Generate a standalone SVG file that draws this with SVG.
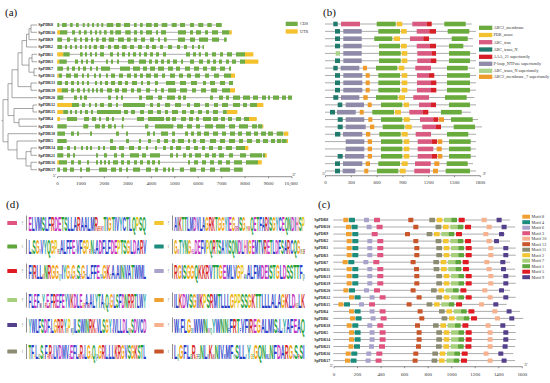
<svg xmlns="http://www.w3.org/2000/svg" width="550" height="383" viewBox="0 0 550 383">
<style>
.pl{font-family:"Liberation Serif",serif;font-size:11px;fill:#111}
.lab{font-family:"Liberation Serif",serif;font-size:4px;font-weight:bold;fill:#222}
.labc{font-family:"Liberation Serif",serif;font-size:3.8px;font-weight:bold;fill:#222}
.tk{font-family:"Liberation Serif",serif;font-size:4.9px;fill:#333;text-anchor:middle}
.lg{font-family:"Liberation Serif",serif;font-size:4.2px;fill:#333}
.intr,.bl,.cl{fill:none;stroke:#a3a3a3;stroke-width:0.9}
.cds{fill:none;stroke:#70ad47;stroke-width:4.2}
.utr{fill:none;stroke:#f5c12d;stroke-width:4.2}
.tree{fill:none;stroke:#6a6a6a;stroke-width:0.6}
.ax{fill:none;stroke:#444;stroke-width:0.6}
rect.b{y:-2.3px;height:4.6px}
.dA{fill:#6aab3e}.dB{fill:#f3c230}.dC{fill:#d95a80}.dD{fill:#1f7a6b}.dE{fill:#d61f26}.dF{fill:#8e8aa8}.dG{fill:#a9d38d}.dH{fill:#ef9b29}
.m1{fill:#5ea63c}.m2{fill:#f3c530}.m3{fill:#e05580}.m4{fill:#1c8c7c}.m5{fill:#e01b24}.m6{fill:#a9a3cc}.m7{fill:#a8d07c}.m8{fill:#f0a030}.m9{fill:#55408c}.m10{fill:#f6b28f}.m11{fill:#8c8c72}.m12{fill:#c9552a}
.logo{font-family:"Liberation Sans",sans-serif;font-weight:bold;font-size:21px}
.s{font-size:8px}
.h{fill:#2a3fc8}.p{fill:#1f9e3a}.a{fill:#c534c0}.k{fill:#d42a2a}.g{fill:#f0a20c}.y{fill:#e5c81a}.hh{fill:#e76fa8}.yy{fill:#21a3a3}
.bits{font-family:"Liberation Sans",sans-serif;font-size:2.4px;fill:#444;text-anchor:middle}
</style>
<defs>
<g id="cb1"><rect class="m8" x="346.7" y="-2.15" width="5" height="4.3" rx="0.5"/><rect class="m4" x="352.3" y="-2.15" width="6" height="4.3" rx="0.5"/><rect class="m6" x="367.3" y="-2.15" width="5" height="4.3" rx="0.5"/><rect class="m3" x="377.3" y="-2.15" width="6" height="4.3" rx="0.5"/></g>
<g id="cb2"><rect class="m12" x="414.3" y="-2.15" width="5" height="4.3" rx="0.5"/></g>
<g id="cb3"><rect class="m11" x="436.3" y="-2.15" width="5.7" height="4.3" rx="0.5"/><rect class="m2" x="443.7" y="-2.15" width="5.6" height="4.3" rx="0.5"/><rect class="m7" x="451" y="-2.15" width="7.3" height="4.3" rx="0.5"/><rect class="m1" x="458.3" y="-2.15" width="5.7" height="4.3" rx="0.5"/><rect class="m5" x="465.7" y="-2.15" width="6" height="4.3" rx="0.5"/></g>
<g id="cb4"><rect class="m10" x="488.3" y="-2.15" width="5" height="4.3" rx="0.5"/></g>
<g id="cb5"><rect class="m9" x="503.3" y="-2.15" width="5" height="4.3" rx="0.5"/></g>
</defs>
<rect width="550" height="383" fill="#fff"/>
<text class="pl" x="5" y="16">(a)</text>
<text class="pl" x="323" y="16">(b)</text>
<text class="pl" x="318" y="208">(c)</text>
<text class="pl" x="6" y="208">(d)</text>

<g id="connectors">
<path class="tree" d="M37 25H31V32.3H37M31 28.65H29V39.7H37M29 34.2H26.5V47H37M37 54.3H32V61.7H37M37 68.7H34V75.7H37M32 58H29V72.2H34M26.5 40.6H22V65.1H29M37 83H31V90.3H37M22 52.85H18V86.65H31M18 69.75H12V97.7H37M37 105H33V112H37M37 119H19V126.3H37M33 108.5H14V122.65H19M12 83.7H8V115.6H14M37 148H31V155.3H37M37 162.3H31V169.7H37M31 151.65H26V166H31M37 141H17V158.8H26M37 133.7H8V149.9H17M8 99.65H3V141.8H8M3 120.7H1.5"/>
</g>

<g id="panel-a">
<g id="a-SpPDR8" transform="translate(0,25)"><text class="lab" x="38.3" y="1.4">SpPDR8</text><path class="intr" d="M57.3 0H221.7"/><path class="cds" d="M57.3 0H59.3M62 0H66.7M70 0H72.7M76 0H78.7M82.7 0H84.7M87.3 0H89.3M92 0H94M96.7 0H98.7M101.3 0H103.3M106.7 0H113.3M116 0H120.7M124 0H130M134 0H136.7M140 0H142.7M146 0H151.7M154 0H158M161.7 0H167.3M171.7 0H176.7M180 0H185M190 0H194M198.3 0H203.3M207.3 0H211.7M216 0H221.7"/></g>
<g id="a-SpPDR10" transform="translate(0,32.3)"><text class="lab" x="38.3" y="1.4">SpPDR10</text><path class="intr" d="M57.3 0H231.7"/><path class="utr" d="M57.3 0H60M229.3 0H231.7"/><path class="cds" d="M60 0H67.3M72 0H75M78.7 0H81M84 0H86.7M90 0H92M95 0H97M99.3 0H101.3M104 0H106.7M110 0H113.3M115.3 0H121M125.3 0H130.7M134 0H137M140 0H142.7M146 0H152M156 0H158M161 0H166M178 0H186M190 0H193M196 0H201M205 0H208M212 0H218M222 0H229.3"/></g>
<g id="a-SpPDR9" transform="translate(0,39.7)"><text class="lab" x="38.3" y="1.4">SpPDR9</text><path class="intr" d="M57.3 0H226.7"/><path class="cds" d="M57.3 0H62M67 0H70M74 0H76.7M80 0H82M85 0H88M91 0H93M96 0H98.7M102 0H106M108.7 0H114M118 0H124M127 0H130.7M134 0H137M141 0H145M150 0H154M158 0H160M164 0H166.7M178 0H185M190 0H195M199 0H208M212 0H219M224 0H226.7"/></g>
<g id="a-SpPDR2" transform="translate(0,47)"><text class="lab" x="38.3" y="1.4">SpPDR2</text><path class="intr" d="M57.3 0H204"/><path class="cds" d="M57.3 0H62M65 0H67M70 0H72M75 0H77M80 0H82M85 0H86.7M89 0H91M93.7 0H97M100 0H104M108 0H111M114 0H119M122 0H126.7M130 0H134M138 0H142M146 0H149M152 0H156M160 0H163M168 0H172M177 0H180M184 0H187M192 0H194M198 0H200M202.5 0H204"/></g>
<g id="a-SpPDR1" transform="translate(0,54.3)"><text class="lab" x="38.3" y="1.4">SpPDR1</text><path class="intr" d="M57.3 0H253.3"/><path class="utr" d="M57.3 0H63.3M245 0H253.3"/><path class="cds" d="M63.3 0H69.7M80 0H82.7M85 0H87M90 0H92M95 0H97M100 0H104M110 0H113M117 0H119M122 0H125M128 0H130M133 0H136M139 0H141M144 0H147M150 0H153M156 0H159M163 0H166M186 0H190M193 0H196M198.7 0H201M205 0H208M212 0H216M220 0H223M227 0H232M236 0H245"/></g>
<g id="a-SpPDR3" transform="translate(0,61.7)"><text class="lab" x="38.3" y="1.4">SpPDR3</text><path class="intr" d="M57.3 0H258.3"/><path class="utr" d="M57.3 0H59.3M245 0H258.3"/><path class="cds" d="M59.3 0H66.7M75 0H78M81 0H83M86 0H88M91 0H94M106 0H108M111 0H113M117 0H119M128 0H134M139 0H146M149 0H152M155 0H158M161 0H164M167 0H170M173 0H177M181 0H183M190 0H194M199 0H203M207 0H210M213 0H216M219 0H222M226 0H229M232 0H236M240 0H245"/></g>
<g id="a-SpPDR7" transform="translate(0,68.7)"><text class="lab" x="38.3" y="1.4">SpPDR7</text><path class="intr" d="M57.3 0H231"/><path class="cds" d="M57.3 0H63M66.7 0H69M72 0H75M78 0H80M83 0H86M90 0H92M96 0H98M101 0H110M120 0H130M133 0H140M143 0H147M150 0H155M158 0H164M168 0H173M176 0H180M185 0H190M194 0H199M203 0H207M211 0H216M220 0H225M229 0H231"/></g>
<g id="a-SpPDR11" transform="translate(0,75.7)"><text class="lab" x="38.3" y="1.4">SpPDR11</text><path class="intr" d="M57.3 0H235"/><path class="utr" d="M57.3 0H58.7M231 0H235"/><path class="cds" d="M58.7 0H62M66 0H71M74 0H78M82 0H84M87 0H89M94 0H96M99 0H101M106 0H108M111 0H115M119 0H123M127 0H131M134 0H137M140 0H143M146 0H151M154 0H158M162 0H165M170 0H175M179 0H183M187 0H191M195 0H200M205 0H209M214 0H219M224 0H231"/></g>
<g id="a-SpPDR13" transform="translate(0,83)"><text class="lab" x="38.3" y="1.4">SpPDR13</text><path class="intr" d="M57.3 0H233"/><path class="cds" d="M57.3 0H62M65 0H68M71 0H74M77 0H79M82 0H84M87 0H89M95 0H97M100 0H102M105 0H108M111 0H115M118 0H122M125 0H128M132 0H137M141 0H143M147 0H150M155 0H158M166 0H175M180 0H186M191 0H197M203 0H206M210 0H215M220 0H225M229 0H233"/></g>
<g id="a-SpPDR19" transform="translate(0,90.3)"><text class="lab" x="38.3" y="1.4">SpPDR19</text><path class="intr" d="M57.3 0H235"/><path class="utr" d="M57.3 0H61.7M230 0H235"/><path class="cds" d="M61.7 0H68M71 0H74M77 0H80M83 0H85M87.7 0H89.7M92 0H94M96 0H98M100 0H103M107 0H112M115 0H119M122 0H127M131 0H134M137 0H141M146 0H150M155 0H157M161 0H164M168 0H176M180 0H187M192 0H196M201 0H206M211 0H217M222 0H230"/></g>
<g id="a-SpPDR20" transform="translate(0,97.7)"><text class="lab" x="38.3" y="1.4">SpPDR20</text><path class="intr" d="M57.3 0H292"/><path class="cds" d="M57.3 0H63.3M74 0H77M80 0H82M84 0H87M108 0H111M116 0H118M121 0H123M139 0H142M146 0H153M158 0H162M167 0H175M178 0H181M183 0H186M210 0H213M219 0H223M226 0H229M233 0H240M243 0H250M253 0H258M262 0H266M268 0H270M273 0H279M282 0H286M288 0H292"/></g>
<g id="a-SpPDR12" transform="translate(0,105)"><text class="lab" x="38.3" y="1.4">SpPDR12</text><path class="intr" d="M57.3 0H263.3"/><path class="utr" d="M57.3 0H72M257 0H263.3"/><path class="cds" d="M72 0H79M82 0H85M89 0H91M95 0H97M100 0H104M108 0H112M116 0H118M123 0H145M150 0H153M157 0H160M165 0H170M175 0H181M187 0H190M194 0H200M205 0H209M214 0H218M222 0H228M233 0H240M243 0H247M250 0H257"/></g>
<g id="a-SpPDR15" transform="translate(0,112)"><text class="lab" x="38.3" y="1.4">SpPDR15</text><path class="intr" d="M57.3 0H237.3"/><path class="utr" d="M57.3 0H63.3M226.7 0H237.3"/><path class="cds" d="M63.3 0H68M70 0H72M75 0H77M80 0H82M85 0H88M91 0H93M97 0H121M124 0H128M131 0H135M140 0H144M148 0H153M157 0H161M165 0H168M172 0H178M182 0H186M190 0H194M198 0H202M206 0H209M213 0H218M223 0H226.7"/></g>
<g id="a-SpPDR4" transform="translate(0,119)"><text class="lab" x="38.3" y="1.4">SpPDR4</text><path class="intr" d="M57.3 0H256.7"/><path class="utr" d="M57.3 0H60M249 0H256.7"/><path class="cds" d="M67 0H77M84 0H89M92 0H96M99 0H101M106 0H109M112 0H114M122 0H124M137 0H144M148 0H164M166 0H170M172 0H176M181 0H186M189 0H193M196 0H199M203 0H211M213 0H218M221 0H225M228 0H232M236 0H241M244 0H249"/></g>
<g id="a-SpPDR6" transform="translate(0,126.3)"><text class="lab" x="38.3" y="1.4">SpPDR6</text><path class="intr" d="M57.3 0H263.3"/><path class="utr" d="M262.3 0H263.3"/><path class="cds" d="M57.3 0H66.7M83.3 0H88.3M95 0H100M101.7 0H105M108 0H111.7M114 0H116M121.7 0H123.3M145 0H148.3M155 0H173.3M177 0H183M187 0H192M196 0H200M205 0H213M216 0H225M229 0H235M239 0H248M252 0H257M258 0H262.3"/></g>
<g id="a-SpPDR18" transform="translate(0,133.7)"><text class="lab" x="38.3" y="1.4">SpPDR18</text><path class="intr" d="M57.3 0H288.3"/><path class="utr" d="M284 0H288.3"/><path class="cds" d="M57.3 0H65M71 0H74M77 0H79M90 0H92M116 0H119M126 0H128M147 0H150M153 0H155M161 0H168M172 0H175M185 0H188M191 0H194M197 0H201M204 0H209M213 0H218M222 0H226M230 0H235M238 0H242M246 0H251M254 0H258M261 0H266M268 0H273M276.7 0H283.3"/></g>
<g id="a-SpPDR5" transform="translate(0,141)"><text class="lab" x="38.3" y="1.4">SpPDR5</text><path class="intr" d="M57.3 0H288"/><path class="utr" d="M286.7 0H288"/><path class="cds" d="M57.3 0H66.7M110 0H113M126 0H129M139 0H141M148 0H151M157 0H160M164 0H168M172 0H175M178 0H184M188 0H190M193 0H196M200 0H205M210 0H216M220 0H225M229 0H235M239 0H243M247 0H252M256 0H260M263 0H268M271 0H275M277 0H281M281.7 0H286.7"/></g>
<g id="a-SpPDR14" transform="translate(0,148)"><text class="lab" x="38.3" y="1.4">SpPDR14</text><path class="intr" d="M57.3 0H248.3"/><path class="utr" d="M245 0H248.3"/><path class="cds" d="M57.3 0H63M67 0H70M74 0H76M81 0H83M86 0H88M90 0H92M98 0H100M103 0H105M110 0H116M119 0H124M129 0H134M138 0H141M146 0H148M155 0H157M163 0H166M170 0H173M176 0H181M186 0H190M194 0H198M202 0H205M209 0H213M218 0H222M226 0H232M236 0H245"/></g>
<g id="a-SpPDR21" transform="translate(0,155.3)"><text class="lab" x="38.3" y="1.4">SpPDR21</text><path class="intr" d="M57.3 0H266.7"/><path class="utr" d="M265 0H266.7"/><path class="cds" d="M57.3 0H63.3M67 0H70M73 0H75M96 0H98M104 0H107M114 0H117M121 0H124M130 0H139M142 0H146M150 0H160M170 0H173M176 0H178M183 0H186M189 0H192M195 0H201M205 0H209M212 0H216M219 0H224M229 0H233M240 0H246M250 0H262M263 0H265"/></g>
<g id="a-SpPDR16" transform="translate(0,162.3)"><text class="lab" x="38.3" y="1.4">SpPDR16</text><path class="intr" d="M57.3 0H261.7"/><path class="utr" d="M57.3 0H59M258 0H261.7"/><path class="cds" d="M59 0H67M71 0H74M78 0H81M87 0H89M96 0H98M100 0H102M104 0H106M108 0H110M113 0H118M121 0H124M127 0H130M134 0H137M140 0H143M147 0H150M152 0H155M158 0H160M188 0H190M194 0H198M202 0H206M210 0H214M218 0H222M226 0H230M234 0H242M246 0H258"/></g>
<g id="a-SpPDR17" transform="translate(0,169.7)"><text class="lab" x="38.3" y="1.4">SpPDR17</text><path class="intr" d="M57.3 0H242.7"/><path class="cds" d="M57.3 0H60M63 0H67M70 0H74M80 0H82M86 0H90M99 0H107M111 0H116M119 0H122M126 0H128M133 0H140M146 0H151M155 0H158M163 0H166M168 0H170M172 0H174M180 0H184M190 0H196M201 0H205M210 0H215M220 0H230M234 0H242.7"/></g>
<g id="a-legend"><rect x="285.7" y="21.7" width="12" height="4.3" fill="#70ad47"/><text class="lg" x="300" y="25.4">CDS</text><rect x="285.7" y="29.3" width="12" height="4.3" fill="#f5c12d"/><text class="lg" x="300" y="33">UTR</text></g>
<g id="a-axis"><path class="ax" d="M57.5 176.7H292M57.5 176.7v1.5M80.95 176.7v1.5M104.4 176.7v1.5M127.85 176.7v1.5M151.3 176.7v1.5M174.75 176.7v1.5M198.2 176.7v1.5M221.65 176.7v1.5M245.1 176.7v1.5M268.55 176.7v1.5M292 176.7v1.5"/>
<text class="tk" x="57.5" y="185">0</text><text class="tk" x="80.95" y="185">1000</text><text class="tk" x="104.4" y="185">2000</text><text class="tk" x="127.85" y="185">3000</text><text class="tk" x="151.3" y="185">4000</text><text class="tk" x="174.75" y="185">5000</text><text class="tk" x="198.2" y="185">6000</text><text class="tk" x="221.65" y="185">7000</text><text class="tk" x="245.1" y="185">8000</text><text class="tk" x="268.55" y="185">9000</text><text class="tk" x="291" y="185">10,000</text>
<text class="tk" x="54.5" y="177">5'</text><text class="tk" x="294" y="175.5">3'</text></g>
</g>

<g id="panel-b">
<g id="b-r1" transform="translate(0,24)"><path class="bl" d="M325 0H471.7"/><rect class="b dD" x="333.3" width="4.4"/><rect class="b dC" x="341" width="19"/><rect class="b dA" x="376.7" width="19"/><rect class="b dB" x="396.7" width="5.6"/><rect class="b dC" x="412.3" width="14.4"/><rect class="b dE" x="426.7" width="5"/><rect class="b dA" x="444.3" width="21.4"/></g>
<g id="b-r2" transform="translate(0,31.35)"><path class="bl" d="M325 0H476"/><rect class="b dD" x="335" width="5"/><rect class="b dF" x="343.3" width="18.4"/><rect class="b dA" x="378.3" width="21.7"/><rect class="b dB" x="401" width="5.7"/><rect class="b dC" x="416.7" width="12.6"/><rect class="b dE" x="429.3" width="6.7"/><rect class="b dA" x="447.7" width="21.6"/></g>
<g id="b-r3" transform="translate(0,38.7)"><path class="bl" d="M325 0H473"/><rect class="b dD" x="335" width="5"/><rect class="b dF" x="343.3" width="18.4"/><rect class="b dA" x="374.3" width="18"/><rect class="b dB" x="393.7" width="6.3"/><rect class="b dC" x="410" width="13.3"/><rect class="b dE" x="423.3" width="5.7"/><rect class="b dA" x="451.7" width="16"/></g>
<g id="b-r4" transform="translate(0,46.05)"><path class="bl" d="M325 0H473"/><rect class="b dD" x="335" width="5"/><rect class="b dF" x="343.3" width="18.4"/><rect class="b dA" x="379" width="21"/><rect class="b dB" x="401" width="5.7"/><rect class="b dC" x="416.7" width="13.3"/><rect class="b dE" x="430" width="6"/><rect class="b dA" x="449" width="14.3"/></g>
<g id="b-r5" transform="translate(0,53.4)"><path class="bl" d="M325 0H476"/><rect class="b dG" x="335.7" width="4.3"/><rect class="b dF" x="343.3" width="18.4"/><rect class="b dA" x="379" width="21.7"/><rect class="b dB" x="401.7" width="5.6"/><rect class="b dC" x="417.3" width="14.4"/><rect class="b dE" x="431.7" width="4.3"/><rect class="b dA" x="449" width="21"/></g>
<g id="b-r6" transform="translate(0,60.75)"><path class="bl" d="M325 0H476"/><rect class="b dD" x="335" width="5"/><rect class="b dF" x="343.3" width="18.4"/><rect class="b dA" x="379" width="21.7"/><rect class="b dB" x="401.7" width="5.6"/><rect class="b dC" x="417.3" width="13.7"/><rect class="b dE" x="431" width="5.3"/><rect class="b dA" x="449" width="21"/></g>
<g id="b-r7" transform="translate(0,68.1)"><path class="bl" d="M325 0H475"/><rect class="b dD" x="333.3" width="4.4"/><rect class="b dF" x="340.7" width="18.6"/><rect class="b dH" x="363" width="4"/><rect class="b dA" x="376" width="21.3"/><rect class="b dB" x="398.7" width="5.6"/><rect class="b dC" x="415.3" width="15.7"/><rect class="b dA" x="447" width="20.7"/></g>
<g id="b-r8" transform="translate(0,75.45)"><path class="bl" d="M325 0H476"/><rect class="b dD" x="335" width="5"/><rect class="b dF" x="343.3" width="19"/><rect class="b dH" x="365.7" width="4"/><rect class="b dA" x="378.3" width="21.7"/><rect class="b dB" x="401.7" width="5.6"/><rect class="b dC" x="417" width="12"/><rect class="b dE" x="429" width="5.3"/><rect class="b dA" x="447" width="23"/></g>
<g id="b-r9" transform="translate(0,82.8)"><path class="bl" d="M325 0H476"/><rect class="b dD" x="335" width="5"/><rect class="b dF" x="343.3" width="19"/><rect class="b dH" x="365.7" width="4"/><rect class="b dA" x="378.3" width="21.7"/><rect class="b dB" x="401.7" width="5.6"/><rect class="b dC" x="417" width="14"/><rect class="b dE" x="431" width="5.3"/><rect class="b dA" x="447" width="23"/></g>
<g id="b-r10" transform="translate(0,90.15)"><path class="bl" d="M325 0H476"/><rect class="b dD" x="335" width="5"/><rect class="b dF" x="343.3" width="19"/><rect class="b dH" x="365.7" width="4"/><rect class="b dA" x="378.3" width="21.7"/><rect class="b dB" x="401.7" width="5.6"/><rect class="b dC" x="417" width="14"/><rect class="b dE" x="431" width="5.3"/><rect class="b dA" x="447" width="23"/></g>
<g id="b-r11" transform="translate(0,97.5)"><path class="bl" d="M325 0H474.3"/><rect class="b dD" x="333.3" width="5"/><rect class="b dF" x="341" width="18.3"/><rect class="b dH" x="363.3" width="4.4"/><rect class="b dA" x="376" width="21.7"/><rect class="b dB" x="398.7" width="6.3"/><rect class="b dC" x="413.3" width="15.7"/><rect class="b dA" x="445" width="21.7"/></g>
<g id="b-r12" transform="translate(0,104.85)"><path class="bl" d="M325 0H476"/><rect class="b dD" x="337.7" width="4.6"/><rect class="b dF" x="345.7" width="18.3"/><rect class="b dH" x="367.7" width="4"/><rect class="b dA" x="381" width="21.3"/><rect class="b dB" x="403.7" width="5.3"/><rect class="b dC" x="419" width="12"/><rect class="b dE" x="431" width="5"/><rect class="b dA" x="449" width="21"/></g>
<g id="b-r13" transform="translate(0,112.2)"><path class="bl" d="M325 0H471"/><rect class="b dD" x="330" width="5"/><rect class="b dF" x="337" width="18.7"/><rect class="b dH" x="359.7" width="4"/><rect class="b dA" x="372.3" width="21.7"/><rect class="b dB" x="395" width="6"/><rect class="b dC" x="409.3" width="13.4"/><rect class="b dE" x="422.7" width="5.6"/><rect class="b dA" x="441" width="20.7"/></g>
<g id="b-r14" transform="translate(0,119.55)"><path class="bl" d="M325 0H478"/><rect class="b dD" x="337.7" width="5"/><rect class="b dF" x="345.7" width="18.6"/><rect class="b dH" x="368.3" width="4"/><rect class="b dA" x="381" width="21.3"/><rect class="b dB" x="403.7" width="6"/><rect class="b dC" x="420" width="13.3"/><rect class="b dE" x="433.3" width="5"/><rect class="b dH" x="439" width="5"/><rect class="b dA" x="451" width="21.7"/></g>
<g id="b-r15" transform="translate(0,126.9)"><path class="bl" d="M325 0H482"/><rect class="b dD" x="337.7" width="5"/><rect class="b dF" x="345.7" width="20"/><rect class="b dH" x="370" width="4.3"/><rect class="b dA" x="382.7" width="21.6"/><rect class="b dB" x="405.3" width="6.4"/><rect class="b dC" x="422.3" width="13.7"/><rect class="b dE" x="436" width="5"/><rect class="b dA" x="453.7" width="21.3"/></g>
<g id="b-r16" transform="translate(0,134.25)"><path class="bl" d="M325 0H476"/><rect class="b dD" x="335" width="5.3"/><rect class="b dF" x="343" width="19.3"/><rect class="b dH" x="366" width="4.3"/><rect class="b dA" x="379.3" width="21.4"/><rect class="b dB" x="401.7" width="6"/><rect class="b dC" x="415.7" width="15.3"/><rect class="b dA" x="447" width="21.3"/></g>
<g id="b-r17" transform="translate(0,141.6)"><path class="bl" d="M325 0H476"/><rect class="b dF" x="345.7" width="18.6"/><rect class="b dH" x="367.7" width="4.3"/><rect class="b dA" x="381" width="21.3"/><rect class="b dB" x="403.7" width="5.6"/><rect class="b dC" x="417.7" width="14"/><rect class="b dE" x="431.7" width="5.3"/><rect class="b dH" x="437.7" width="4.6"/><rect class="b dA" x="449" width="21.7"/></g>
<g id="b-r18" transform="translate(0,148.95)"><path class="bl" d="M325 0H476"/><rect class="b dF" x="345.7" width="18.6"/><rect class="b dH" x="367.7" width="4.3"/><rect class="b dA" x="381" width="21.3"/><rect class="b dB" x="403.7" width="5.6"/><rect class="b dC" x="417.7" width="15.6"/><rect class="b dH" x="436.7" width="5"/><rect class="b dA" x="449" width="21.7"/></g>
<g id="b-r19" transform="translate(0,156.3)"><path class="bl" d="M325 0H476"/><rect class="b dD" x="337.7" width="5"/><rect class="b dF" x="345" width="19.3"/><rect class="b dH" x="367.7" width="4.3"/><rect class="b dA" x="381" width="21.3"/><rect class="b dB" x="403.7" width="5.6"/><rect class="b dC" x="417.7" width="14"/><rect class="b dE" x="431.7" width="5.3"/><rect class="b dH" x="437.7" width="4.6"/><rect class="b dA" x="449" width="21.7"/></g>
<g id="b-r20" transform="translate(0,163.65)"><path class="bl" d="M325 0H473"/><rect class="b dD" x="335" width="5"/><rect class="b dF" x="343" width="19.3"/><rect class="b dH" x="365.7" width="4.3"/><rect class="b dA" x="378.3" width="21.7"/><rect class="b dB" x="401.7" width="6"/><rect class="b dC" x="415" width="15.7"/><rect class="b dH" x="434.3" width="5"/><rect class="b dA" x="446.7" width="21"/></g>
<g id="b-r21" transform="translate(0,171)"><path class="bl" d="M325 0H476"/><rect class="b dD" x="335" width="5"/><rect class="b dF" x="342.7" width="12.6"/><rect class="b dH" x="364.3" width="4"/><rect class="b dA" x="377" width="21.3"/><rect class="b dB" x="399.7" width="6"/><rect class="b dC" x="414.3" width="15.7"/><rect class="b dH" x="433" width="5"/><rect class="b dA" x="445.7" width="24.3"/></g>
<g id="b-legend">
<rect class="dA" x="479" y="25.65" width="13.3" height="4.3"/><text class="lg" x="493.5" y="29.2">ABC2_membrane</text>
<rect class="dB" x="479" y="32.85" width="13.3" height="4.3"/><text class="lg" x="493.5" y="36.4">PDR_assoc</text>
<rect class="dC" x="479" y="40.05" width="13.3" height="4.3"/><text class="lg" x="493.5" y="43.6">ABC_tran</text>
<rect class="dD" x="479" y="47.35" width="13.3" height="4.3"/><text class="lg" x="493.5" y="50.9">ABC_trans_N</text>
<rect class="dE" x="479" y="54.65" width="13.3" height="4.3"/><text class="lg" x="493.5" y="58.2">AAA_21 superfamily</text>
<rect class="dF" x="479" y="61.65" width="13.3" height="4.3"/><text class="lg" x="493.5" y="65.2">P-loop_NTPase superfamily</text>
<rect class="dG" x="479" y="68.65" width="13.3" height="4.3"/><text class="lg" x="493.5" y="72.2">ABC_trans_N superfamily</text>
<rect class="dH" x="479" y="74.65" width="13.3" height="4.3"/><text class="lg" x="493.5" y="78.2">ABC2_membrane_7 superfamily</text>
</g>
<g id="b-axis"><path class="ax" d="M325.5 175.7H480.3M325.5 175.7v1.5M351.3 175.7v1.5M377.1 175.7v1.5M402.9 175.7v1.5M428.7 175.7v1.5M454.5 175.7v1.5M480.3 175.7v1.5"/>
<text class="tk" x="325.5" y="184">0</text><text class="tk" x="351.3" y="184">300</text><text class="tk" x="377.1" y="184">600</text><text class="tk" x="402.9" y="184">900</text><text class="tk" x="428.7" y="184">1200</text><text class="tk" x="454.5" y="184">1500</text><text class="tk" x="480.3" y="184">1800</text>
<text class="tk" x="324" y="175">5'</text><text class="tk" x="484.5" y="175">3'</text></g>
</g>

<g id="panel-c">
<g id="c-SpPDR8" transform="translate(0,220)"><text class="labc" x="314.3" y="1.3">SpPDR8</text><path class="cl" d="M333.3 0H510"/><use href="#cb1" x="-3.3"/><use href="#cb2" x="-6"/><use href="#cb3" x="-7"/><use href="#cb4" x="-6.7"/><use href="#cb5" x="-6.7"/></g>
<g id="c-SpPDR10" transform="translate(0,227)"><text class="labc" x="314.3" y="1.3">SpPDR10</text><path class="cl" d="M333.3 0H515"/><use href="#cb1" x="-0.7"/><use href="#cb2" x="-1"/><use href="#cb3" x="-0.7"/><use href="#cb4" x="-1.7"/><use href="#cb5" x="-1.7"/></g>
<g id="c-SpPDR9" transform="translate(0,234.1)"><text class="labc" x="314.3" y="1.3">SpPDR9</text><path class="cl" d="M333.3 0H505"/><rect class="m8" x="346" y="-2.15" width="5.7" height="4.3" rx="0.5"/><rect class="m4" x="352.3" y="-2.15" width="6" height="4.3" rx="0.5"/><rect class="m3" x="371.7" y="-2.15" width="6" height="4.3" rx="0.5"/><use href="#cb2" x="-9.3"/><use href="#cb3" x="-9.7"/><use href="#cb4" x="-5"/><use href="#cb5" x="-4.3"/></g>
<g id="c-SpPDR2" transform="translate(0,241.1)"><text class="labc" x="314.3" y="1.3">SpPDR2</text><path class="cl" d="M333.3 0H510"/><use href="#cb1"/><use href="#cb2" x="-1"/><use href="#cb3" x="-0.7"/><use href="#cb4" x="-1.7"/><use href="#cb5" x="-9.3"/></g>
<g id="c-SpPDR1" transform="translate(0,248.1)"><text class="labc" x="314.3" y="1.3">SpPDR1</text><path class="cl" d="M333.3 0H515.7"/><use href="#cb1"/><use href="#cb2"/><use href="#cb3"/><use href="#cb4"/><use href="#cb5"/></g>
<g id="c-SpPDR3" transform="translate(0,255.2)"><text class="labc" x="314.3" y="1.3">SpPDR3</text><path class="cl" d="M333.3 0H515.7"/><use href="#cb1"/><use href="#cb2"/><use href="#cb3"/><use href="#cb4"/><use href="#cb5"/></g>
<g id="c-SpPDR7" transform="translate(0,262.2)"><text class="labc" x="314.3" y="1.3">SpPDR7</text><path class="cl" d="M333.3 0H510"/><use href="#cb1" x="-4"/><use href="#cb2" x="-3.7"/><use href="#cb3" x="-3"/><use href="#cb4" x="-4"/><use href="#cb5" x="-3"/></g>
<g id="c-SpPDR11" transform="translate(0,269.2)"><text class="labc" x="314.3" y="1.3">SpPDR11</text><path class="cl" d="M333.3 0H515"/><use href="#cb1"/><use href="#cb2" x="-0.3"/><use href="#cb3" x="-2.7"/><use href="#cb4" x="-1.7"/><use href="#cb5" x="-2.3"/></g>
<g id="c-SpPDR13" transform="translate(0,276.2)"><text class="labc" x="314.3" y="1.3">SpPDR13</text><path class="cl" d="M333.3 0H515.7"/><use href="#cb1"/><use href="#cb2"/><use href="#cb3"/><use href="#cb4"/><use href="#cb5"/></g>
<g id="c-SpPDR19" transform="translate(0,283.3)"><text class="labc" x="314.3" y="1.3">SpPDR19</text><path class="cl" d="M333.3 0H515.7"/><use href="#cb1"/><use href="#cb2"/><use href="#cb3"/><use href="#cb4"/><use href="#cb5"/></g>
<g id="c-SpPDR20" transform="translate(0,290.3)"><text class="labc" x="314.3" y="1.3">SpPDR20</text><path class="cl" d="M333.3 0H510"/><use href="#cb1" x="-3.3"/><use href="#cb2" x="-3.7"/><use href="#cb3" x="-5.3"/><use href="#cb4" x="-6"/><use href="#cb5" x="-4.3"/></g>
<g id="c-SpPDR12" transform="translate(0,297.3)"><text class="labc" x="314.3" y="1.3">SpPDR12</text><path class="cl" d="M333.3 0H515.7"/><use href="#cb1" x="2.3"/><use href="#cb2" x="2.3"/><use href="#cb3"/><use href="#cb4" x="-0.7"/><use href="#cb5"/></g>
<g id="c-SpPDR15" transform="translate(0,304.4)"><text class="labc" x="314.3" y="1.3">SpPDR15</text><path class="cl" d="M333.3 0H506.7"/><use href="#cb1" x="-8.3"/><use href="#cb2" x="-7.7"/><use href="#cb3" x="-9.7"/><use href="#cb4" x="-9.3"/><use href="#cb5" x="-10"/></g>
<g id="c-SpPDR4" transform="translate(0,311.4)"><text class="labc" x="314.3" y="1.3">SpPDR4</text><path class="cl" d="M333.3 0H520"/><use href="#cb1" x="2.3"/><use href="#cb2" x="3.3"/><use href="#cb3" x="2.7"/><use href="#cb4" x="4"/><use href="#cb5" x="3.3"/></g>
<g id="c-SpPDR6" transform="translate(0,318.4)"><text class="labc" x="314.3" y="1.3">SpPDR6</text><path class="cl" d="M333.3 0H523.3"/><use href="#cb1" x="3.3"/><use href="#cb2" x="5"/><use href="#cb3" x="5.3"/><use href="#cb4" x="6.7"/><use href="#cb5" x="6"/></g>
<g id="c-SpPDR18" transform="translate(0,325.5)"><text class="labc" x="314.3" y="1.3">SpPDR18</text><path class="cl" d="M333.3 0H515"/><use href="#cb1"/><use href="#cb2" x="0.7"/><use href="#cb3" x="-3.3"/><use href="#cb4" x="-2.7"/><use href="#cb5" x="-3"/></g>
<g id="c-SpPDR5" transform="translate(0,332.5)"><text class="labc" x="314.3" y="1.3">SpPDR5</text><path class="cl" d="M333.3 0H515.7"/><use href="#cb1" x="2.3"/><use href="#cb2" x="2.3"/><use href="#cb3"/><use href="#cb4" x="-0.7"/><use href="#cb5"/></g>
<g id="c-SpPDR14" transform="translate(0,339.5)"><text class="labc" x="314.3" y="1.3">SpPDR14</text><path class="cl" d="M333.3 0H515.7"/><use href="#cb1" x="2.3"/><use href="#cb2" x="2.3"/><use href="#cb3"/><use href="#cb4" x="-0.7"/><use href="#cb5"/></g>
<g id="c-SpPDR21" transform="translate(0,346.5)"><text class="labc" x="314.3" y="1.3">SpPDR21</text><path class="cl" d="M333.3 0H515"/><use href="#cb1" x="1.7"/><use href="#cb2" x="1.7"/><use href="#cb3" x="-0.3"/><use href="#cb4" x="-0.7"/><use href="#cb5" x="-0.7"/></g>
<g id="c-SpPDR16" transform="translate(0,353.6)"><text class="labc" x="314.3" y="1.3">SpPDR16</text><path class="cl" d="M333.3 0H513.3"/><use href="#cb1" x="-1"/><use href="#cb2" x="-1"/><use href="#cb3" x="-4"/><use href="#cb4" x="-4.7"/><use href="#cb5" x="-5"/></g>
<g id="c-SpPDR17" transform="translate(0,360.6)"><text class="labc" x="314.3" y="1.3">SpPDR17</text><path class="cl" d="M333.3 0H515"/><use href="#cb1" x="-1.7"/><use href="#cb2" x="-1.7"/><use href="#cb3" x="-4.7"/><use href="#cb4" x="-0.7"/><use href="#cb5" x="-1.7"/></g>
<g id="c-legend">
<rect class="m8" x="522.3" y="214.7" width="7.7" height="4"/><text class="lg" x="531.5" y="218.1">Motif 8</text>
<rect class="m4" x="522.3" y="220.2" width="7.7" height="4"/><text class="lg" x="531.5" y="223.6">Motif 4</text>
<rect class="m6" x="522.3" y="225.7" width="7.7" height="4"/><text class="lg" x="531.5" y="229.1">Motif 6</text>
<rect class="m3" x="522.3" y="231.2" width="7.7" height="4"/><text class="lg" x="531.5" y="234.6">Motif 3</text>
<rect class="m10" x="522.3" y="236.7" width="7.7" height="4"/><text class="lg" x="531.5" y="240.1">Motif 10</text>
<rect class="m12" x="522.3" y="242.2" width="7.7" height="4"/><text class="lg" x="531.5" y="245.6">Motif 12</text>
<rect class="m11" x="522.3" y="247.7" width="7.7" height="4"/><text class="lg" x="531.5" y="251.1">Motif 11</text>
<rect class="m2" x="522.3" y="253.2" width="7.7" height="4"/><text class="lg" x="531.5" y="256.6">Motif 2</text>
<rect class="m7" x="522.3" y="258.7" width="7.7" height="4"/><text class="lg" x="531.5" y="262.1">Motif 7</text>
<rect class="m1" x="522.3" y="264.2" width="7.7" height="4"/><text class="lg" x="531.5" y="267.6">Motif 1</text>
<rect class="m5" x="522.3" y="269.7" width="7.7" height="4"/><text class="lg" x="531.5" y="273.1">Motif 5</text>
<rect class="m9" x="522.3" y="275.2" width="7.7" height="4"/><text class="lg" x="531.5" y="278.6">Motif 9</text>
</g>
<g id="c-axis"><path class="ax" d="M334 366.7H522.3M334 366.7v1.5M357.5 366.7v1.5M381.1 366.7v1.5M404.6 366.7v1.5M428.2 366.7v1.5M451.7 366.7v1.5M475.2 366.7v1.5M498.8 366.7v1.5M522.3 366.7v1.5"/>
<text class="tk" x="334" y="376">0</text><text class="tk" x="357.5" y="376">200</text><text class="tk" x="381.1" y="376">400</text><text class="tk" x="404.6" y="376">600</text><text class="tk" x="428.2" y="376">800</text><text class="tk" x="451.7" y="376">1000</text><text class="tk" x="475.2" y="376">1200</text><text class="tk" x="498.8" y="376">1400</text><text class="tk" x="522.3" y="376">1600</text>
<text class="tk" x="331.5" y="367">5'</text><text class="tk" x="526" y="366">3'</text></g>
</g>

<g id="panel-d">
<g id="d-motif3"><rect class="m3" x="7.3" y="221" width="9.7" height="4" rx="0.6"/><path class="ax" d="M26.5 215.5V230.5"/><text class="bits" transform="translate(22.5,223) rotate(-90)">bits</text><text class="logo" transform="translate(28.5,230.5) scale(0.2326,1)"><tspan class="a">E</tspan><tspan class="h">LVM</tspan><tspan class="p">S</tspan><tspan class="h">LF</tspan><tspan class="k">R</tspan><tspan class="a">DE</tspan><tspan class="p">TS</tspan><tspan class="h">LLA</tspan><tspan class="k">R</tspan><tspan class="h">AALM</tspan><tspan class="k">R</tspan><tspan class="k s">R</tspan><tspan class="g s">G</tspan><tspan class="k s">K</tspan><tspan class="h s">V</tspan><tspan class="p">T</tspan><tspan class="h">I</tspan><tspan class="g">G</tspan><tspan class="p">T</tspan><tspan class="h">IV</tspan><tspan class="yy">Y</tspan><tspan class="h">C</tspan><tspan class="p">T</tspan><tspan class="h">L</tspan><tspan class="p">Q</tspan><tspan class="y">P</tspan><tspan class="p">SQ</tspan></text></g>
<g id="d-motif1"><rect class="m1" x="7.3" y="244.5" width="9.7" height="4" rx="0.6"/><path class="ax" d="M26.5 239V254"/><text class="bits" transform="translate(22.5,246.5) rotate(-90)">bits</text><text class="logo" transform="translate(28.5,254) scale(0.2251,1)"><tspan class="h">L</tspan><tspan class="p s">S</tspan><tspan class="p">S</tspan><tspan class="g">G</tspan><tspan class="h s">V</tspan><tspan class="h">V</tspan><tspan class="yy">Y</tspan><tspan class="p">Q</tspan><tspan class="g">G</tspan><tspan class="y">P</tspan><tspan class="k s">R</tspan><tspan class="p s">S</tspan><tspan class="h">ALFF</tspan><tspan class="a">E</tspan><tspan class="yy s">Y</tspan><tspan class="h">VF</tspan><tspan class="g">G</tspan><tspan class="y">P</tspan><tspan class="k s">R</tspan><tspan class="p">N</tspan><tspan class="h s">A</tspan><tspan class="h">A</tspan><tspan class="a">D</tspan><tspan class="h">FLF</tspan><tspan class="a">DE</tspan><tspan class="y">P</tspan><tspan class="p">TS</tspan><tspan class="g">G</tspan><tspan class="h">L</tspan><tspan class="a">D</tspan><tspan class="h">A</tspan><tspan class="k">R</tspan><tspan class="h">V</tspan></text></g>
<g id="d-motif5"><rect class="m5" x="7.3" y="269" width="9.7" height="4" rx="0.6"/><path class="ax" d="M26.5 263.5V278.5"/><text class="bits" transform="translate(22.5,271) rotate(-90)">bits</text><text class="logo" transform="translate(28.5,278.5) scale(0.2373,1)"><tspan class="h">FI</tspan><tspan class="k">R</tspan><tspan class="h">LL</tspan><tspan class="k s">K</tspan><tspan class="p">N</tspan><tspan class="k">R</tspan><tspan class="g">GG</tspan><tspan class="p s">Q</tspan><tspan class="yy s">Y</tspan><tspan class="h">I</tspan><tspan class="yy">Y</tspan><tspan class="g">G</tspan><tspan class="h s">A</tspan><tspan class="g">G</tspan><tspan class="h s">L</tspan><tspan class="p">S</tspan><tspan class="a s">E</tspan><tspan class="g">G</tspan><tspan class="p s">T</tspan><tspan class="h">L</tspan><tspan class="h s">L</tspan><tspan class="h">FF</tspan><tspan class="a">E</tspan><tspan class="yy s">Y</tspan><tspan class="h s">A</tspan><tspan class="g">G</tspan><tspan class="k">K</tspan><tspan class="p s">T</tspan><tspan class="h">A</tspan><tspan class="h s">V</tspan><tspan class="h">AI</tspan><tspan class="p">N</tspan><tspan class="h">VA</tspan><tspan class="p">T</tspan><tspan class="h">WML</tspan></text></g>
<g id="d-motif7"><rect class="m7" x="7.3" y="298" width="9.7" height="4" rx="0.6"/><path class="ax" d="M26.5 292.5V307.5"/><text class="bits" transform="translate(22.5,300) rotate(-90)">bits</text><text class="logo" transform="translate(28.5,307.5) scale(0.2085,1)"><tspan class="h">FL</tspan><tspan class="a">E</tspan><tspan class="h">F</tspan><tspan class="h s">M</tspan><tspan class="k s">K</tspan><tspan class="yy">Y</tspan><tspan class="k s">R</tspan><tspan class="a">E</tspan><tspan class="k s">R</tspan><tspan class="h">F</tspan><tspan class="k">R</tspan><tspan class="a">E</tspan><tspan class="h">F</tspan><tspan class="a">E</tspan><tspan class="yy">Y</tspan><tspan class="h">V</tspan><tspan class="k">K</tspan><tspan class="a">D</tspan><tspan class="h">L</tspan><tspan class="a">E</tspan><tspan class="g s">G</tspan><tspan class="k s">R</tspan><tspan class="h">A</tspan><tspan class="k s">R</tspan><tspan class="h">AL</tspan><tspan class="yy">Y</tspan><tspan class="p">T</tspan><tspan class="h">A</tspan><tspan class="p s">Q</tspan><tspan class="p">Q</tspan><tspan class="a s">D</tspan><tspan class="g">G</tspan><tspan class="h">L</tspan><tspan class="p">S</tspan><tspan class="h">F</tspan><tspan class="a">D</tspan><tspan class="p">N</tspan><tspan class="k">RR</tspan><tspan class="p">T</tspan><tspan class="h">LW</tspan><tspan class="yy">Y</tspan></text></g>
<g id="d-motif9"><rect class="m9" x="7.3" y="323" width="9.7" height="4" rx="0.6"/><path class="ax" d="M26.5 317.5V332.5"/><text class="bits" transform="translate(22.5,325) rotate(-90)">bits</text><text class="logo" transform="translate(28.5,332.5) scale(0.2111,1)"><tspan class="yy">Y</tspan><tspan class="h">WLF</tspan><tspan class="p">S</tspan><tspan class="a">D</tspan><tspan class="h">F</tspan><tspan class="h s">C</tspan><tspan class="h">L</tspan><tspan class="g">G</tspan><tspan class="k">RR</tspan><tspan class="yy">Y</tspan><tspan class="k s">R</tspan><tspan class="y">P</tspan><tspan class="h s">M</tspan><tspan class="p s">Q</tspan><tspan class="h">IL</tspan><tspan class="p">S</tspan><tspan class="h">WI</tspan><tspan class="p">N</tspan><tspan class="k">RK</tspan><tspan class="k s">K</tspan><tspan class="h">VL</tspan><tspan class="p">S</tspan><tspan class="g">G</tspan><tspan class="yy">Y</tspan><tspan class="hh s">H</tspan><tspan class="h">IVLL</tspan><tspan class="a">D</tspan><tspan class="h">L</tspan><tspan class="p s">Q</tspan><tspan class="k s">K</tspan><tspan class="p">S</tspan><tspan class="a">D</tspan><tspan class="h">VC</tspan><tspan class="a">D</tspan></text></g>
<g id="d-motif11"><rect class="m11" x="7.3" y="349.5" width="9.7" height="4" rx="0.6"/><path class="ax" d="M26.5 344V359"/><text class="bits" transform="translate(22.5,351.5) rotate(-90)">bits</text><text class="logo" transform="translate(28.5,359) scale(0.2173,1)"><tspan class="p">T</tspan><tspan class="h">F</tspan><tspan class="y s">P</tspan><tspan class="h">L</tspan><tspan class="h s">L</tspan><tspan class="p s">S</tspan><tspan class="p">S</tspan><tspan class="g s">G</tspan><tspan class="h">F</tspan><tspan class="k s">R</tspan><tspan class="k">R</tspan><tspan class="h s">V</tspan><tspan class="h">LV</tspan><tspan class="a">D</tspan><tspan class="h">MV</tspan><tspan class="a s">E</tspan><tspan class="a">E</tspan><tspan class="h">FL</tspan><tspan class="k s">R</tspan><tspan class="k">R</tspan><tspan class="h s">A</tspan><tspan class="h">L</tspan><tspan class="g">G</tspan><tspan class="g s">G</tspan><tspan class="p">Q</tspan><tspan class="p s">Q</tspan><tspan class="h s">A</tspan><tspan class="g">G</tspan><tspan class="k">R</tspan><tspan class="h">L</tspan><tspan class="h s">L</tspan><tspan class="h">LL</tspan><tspan class="k">KR</tspan><tspan class="g">G</tspan><tspan class="h">V</tspan><tspan class="p">S</tspan><tspan class="g">G</tspan><tspan class="k">K</tspan><tspan class="p">ST</tspan><tspan class="h">L</tspan></text></g>
<g id="d-motif2"><rect class="m2" x="154.3" y="221" width="9.4" height="4" rx="0.6"/><path class="ax" d="M172.5 215.5V230.5"/><text class="bits" transform="translate(168.5,223) rotate(-90)">bits</text><text class="logo" transform="translate(174,230.5) scale(0.2095,1)"><tspan class="h">AI</tspan><tspan class="k">K</tspan><tspan class="p">TT</tspan><tspan class="h">LM</tspan><tspan class="a">D</tspan><tspan class="h">VLA</tspan><tspan class="g">G</tspan><tspan class="k">RK</tspan><tspan class="p">T</tspan><tspan class="g">GG</tspan><tspan class="yy">Y</tspan><tspan class="h">I</tspan><tspan class="a">E</tspan><tspan class="g">G</tspan><tspan class="a s">D</tspan><tspan class="h s">I</tspan><tspan class="k s">R</tspan><tspan class="h">I</tspan><tspan class="p">S</tspan><tspan class="g">G</tspan><tspan class="yy s">Y</tspan><tspan class="y s">P</tspan><tspan class="k s">KK</tspan><tspan class="p">Q</tspan><tspan class="a">E</tspan><tspan class="p">T</tspan><tspan class="h">FA</tspan><tspan class="k">R</tspan><tspan class="h">I</tspan><tspan class="p">S</tspan><tspan class="g">G</tspan><tspan class="yy">Y</tspan><tspan class="h">C</tspan><tspan class="a">E</tspan><tspan class="p">QN</tspan><tspan class="a">D</tspan><tspan class="h">I</tspan><tspan class="hh">H</tspan><tspan class="p">S</tspan><tspan class="y">P</tspan></text></g>
<g id="d-motif4"><rect class="m4" x="154.3" y="244.5" width="9.4" height="4" rx="0.6"/><path class="ax" d="M172.5 239V254"/><text class="bits" transform="translate(168.5,246.5) rotate(-90)">bits</text><text class="logo" transform="translate(174,254) scale(0.2083,1)"><tspan class="g">G</tspan><tspan class="k s">K</tspan><tspan class="h s">I</tspan><tspan class="p">T</tspan><tspan class="yy">Y</tspan><tspan class="p">N</tspan><tspan class="g">G</tspan><tspan class="hh s">H</tspan><tspan class="a s">E</tspan><tspan class="h s">L</tspan><tspan class="a">DE</tspan><tspan class="h">FV</tspan><tspan class="y">P</tspan><tspan class="p">Q</tspan><tspan class="k">R</tspan><tspan class="p">TS</tspan><tspan class="h">A</tspan><tspan class="yy">Y</tspan><tspan class="h">I</tspan><tspan class="p">SQN</tspan><tspan class="a">D</tspan><tspan class="h">L</tspan><tspan class="hh">H</tspan><tspan class="h">I</tspan><tspan class="g">G</tspan><tspan class="a">E</tspan><tspan class="h">M</tspan><tspan class="p">T</tspan><tspan class="h">V</tspan><tspan class="k">R</tspan><tspan class="a">E</tspan><tspan class="p">T</tspan><tspan class="h">L</tspan><tspan class="a">D</tspan><tspan class="h">F</tspan><tspan class="p">S</tspan><tspan class="h">A</tspan><tspan class="k">R</tspan><tspan class="h">C</tspan><tspan class="p">Q</tspan><tspan class="g">G</tspan><tspan class="h s">V</tspan><tspan class="g s">G</tspan><tspan class="p s">S</tspan><tspan class="k s">R</tspan></text></g>
<g id="d-motif6"><rect class="m6" x="154.3" y="269" width="9.4" height="4" rx="0.6"/><path class="ax" d="M172.5 263.5V278.5"/><text class="bits" transform="translate(168.5,271) rotate(-90)">bits</text><text class="logo" transform="translate(174,278.5) scale(0.2419,1)"><tspan class="k">R</tspan><tspan class="g">G</tspan><tspan class="h">I</tspan><tspan class="p">S</tspan><tspan class="g">GG</tspan><tspan class="p">Q</tspan><tspan class="k">KKR</tspan><tspan class="h">V</tspan><tspan class="p">TT</tspan><tspan class="g">G</tspan><tspan class="a">E</tspan><tspan class="h">MLV</tspan><tspan class="g">G</tspan><tspan class="y">P</tspan><tspan class="h s">A</tspan><tspan class="p s">N</tspan><tspan class="h">ALFM</tspan><tspan class="a">DE</tspan><tspan class="h">I</tspan><tspan class="p">ST</tspan><tspan class="g">G</tspan><tspan class="h">L</tspan><tspan class="a">D</tspan><tspan class="p">SSTT</tspan><tspan class="h">F</tspan><tspan class="p s">Q</tspan><tspan class="h s">I</tspan></text></g>
<g id="d-motif8"><rect class="m8" x="154.3" y="298" width="9.4" height="4" rx="0.6"/><path class="ax" d="M172.5 292.5V307.5"/><text class="bits" transform="translate(168.5,300) rotate(-90)">bits</text><text class="logo" transform="translate(174,307.5) scale(0.2417,1)"><tspan class="h">IL</tspan><tspan class="k">K</tspan><tspan class="a">D</tspan><tspan class="h">V</tspan><tspan class="p">S</tspan><tspan class="g">G</tspan><tspan class="h">II</tspan><tspan class="k">K</tspan><tspan class="y">P</tspan><tspan class="p">S</tspan><tspan class="k">R</tspan><tspan class="h">M</tspan><tspan class="p">T</tspan><tspan class="h">LLL</tspan><tspan class="g">G</tspan><tspan class="y">PP</tspan><tspan class="p">SS</tspan><tspan class="g">G</tspan><tspan class="k">K</tspan><tspan class="p">TT</tspan><tspan class="h">LLLALA</tspan><tspan class="g">G</tspan><tspan class="k">K</tspan><tspan class="h">L</tspan><tspan class="a">D</tspan><tspan class="k s">K</tspan><tspan class="p s">S</tspan><tspan class="h">L</tspan><tspan class="k">K</tspan></text></g>
<g id="d-motif10"><rect class="m10" x="154.3" y="323" width="9.4" height="4" rx="0.6"/><path class="ax" d="M172.5 317.5V332.5"/><text class="bits" transform="translate(168.5,325) rotate(-90)">bits</text><text class="logo" transform="translate(174,332.5) scale(0.2536,1)"><tspan class="h">W</tspan><tspan class="h s">V</tspan><tspan class="h">FL</tspan><tspan class="g">G</tspan><tspan class="p s">S</tspan><tspan class="h s">V</tspan><tspan class="h">WW</tspan><tspan class="p">N</tspan><tspan class="k s">K</tspan><tspan class="h s">V</tspan><tspan class="p s">Q</tspan><tspan class="yy">Y</tspan><tspan class="h">W</tspan><tspan class="p">NN</tspan><tspan class="h s">F</tspan><tspan class="h">F</tspan><tspan class="k">R</tspan><tspan class="p">T</tspan><tspan class="h s">F</tspan><tspan class="h">VFI</tspan><tspan class="k">R</tspan><tspan class="a">E</tspan><tspan class="g">G</tspan><tspan class="h">ALMI</tspan><tspan class="p">S</tspan><tspan class="h s">A</tspan><tspan class="h">L</tspan><tspan class="h s">I</tspan><tspan class="yy">Y</tspan><tspan class="h">AF</tspan><tspan class="a">E</tspan><tspan class="h">A</tspan><tspan class="p">Q</tspan></text></g>
<g id="d-motif12"><rect class="m12" x="154.3" y="349.5" width="9.4" height="4" rx="0.6"/><path class="ax" d="M172.5 344V359"/><text class="bits" transform="translate(168.5,351.5) rotate(-90)">bits</text><text class="logo" transform="translate(174,359) scale(0.2596,1)"><tspan class="h">L</tspan><tspan class="p s">Q</tspan><tspan class="g">G</tspan><tspan class="h">F</tspan><tspan class="h s">I</tspan><tspan class="h">L</tspan><tspan class="p s">S</tspan><tspan class="k">R</tspan><tspan class="g s">G</tspan><tspan class="h s">F</tspan><tspan class="p s">S</tspan><tspan class="p">N</tspan><tspan class="h">L</tspan><tspan class="h s">V</tspan><tspan class="k">K</tspan><tspan class="h s">I</tspan><tspan class="k s">K</tspan><tspan class="p">N</tspan><tspan class="h">IV</tspan><tspan class="h s">M</tspan><tspan class="h">MF</tspan><tspan class="yy s">Y</tspan><tspan class="h s">I</tspan><tspan class="p">S</tspan><tspan class="h">LL</tspan><tspan class="yy s">Y</tspan><tspan class="yy">Y</tspan><tspan class="g s">G</tspan><tspan class="p s">S</tspan><tspan class="g">G</tspan><tspan class="p">QN</tspan><tspan class="h s">MLI</tspan><tspan class="p">N</tspan><tspan class="h">F</tspan><tspan class="a">D</tspan><tspan class="h">A</tspan><tspan class="k">R</tspan><tspan class="g">G</tspan><tspan class="h s">V</tspan><tspan class="p">S</tspan><tspan class="k s">R</tspan><tspan class="p">S</tspan><tspan class="h">I</tspan></text></g>
</g>
</svg>
